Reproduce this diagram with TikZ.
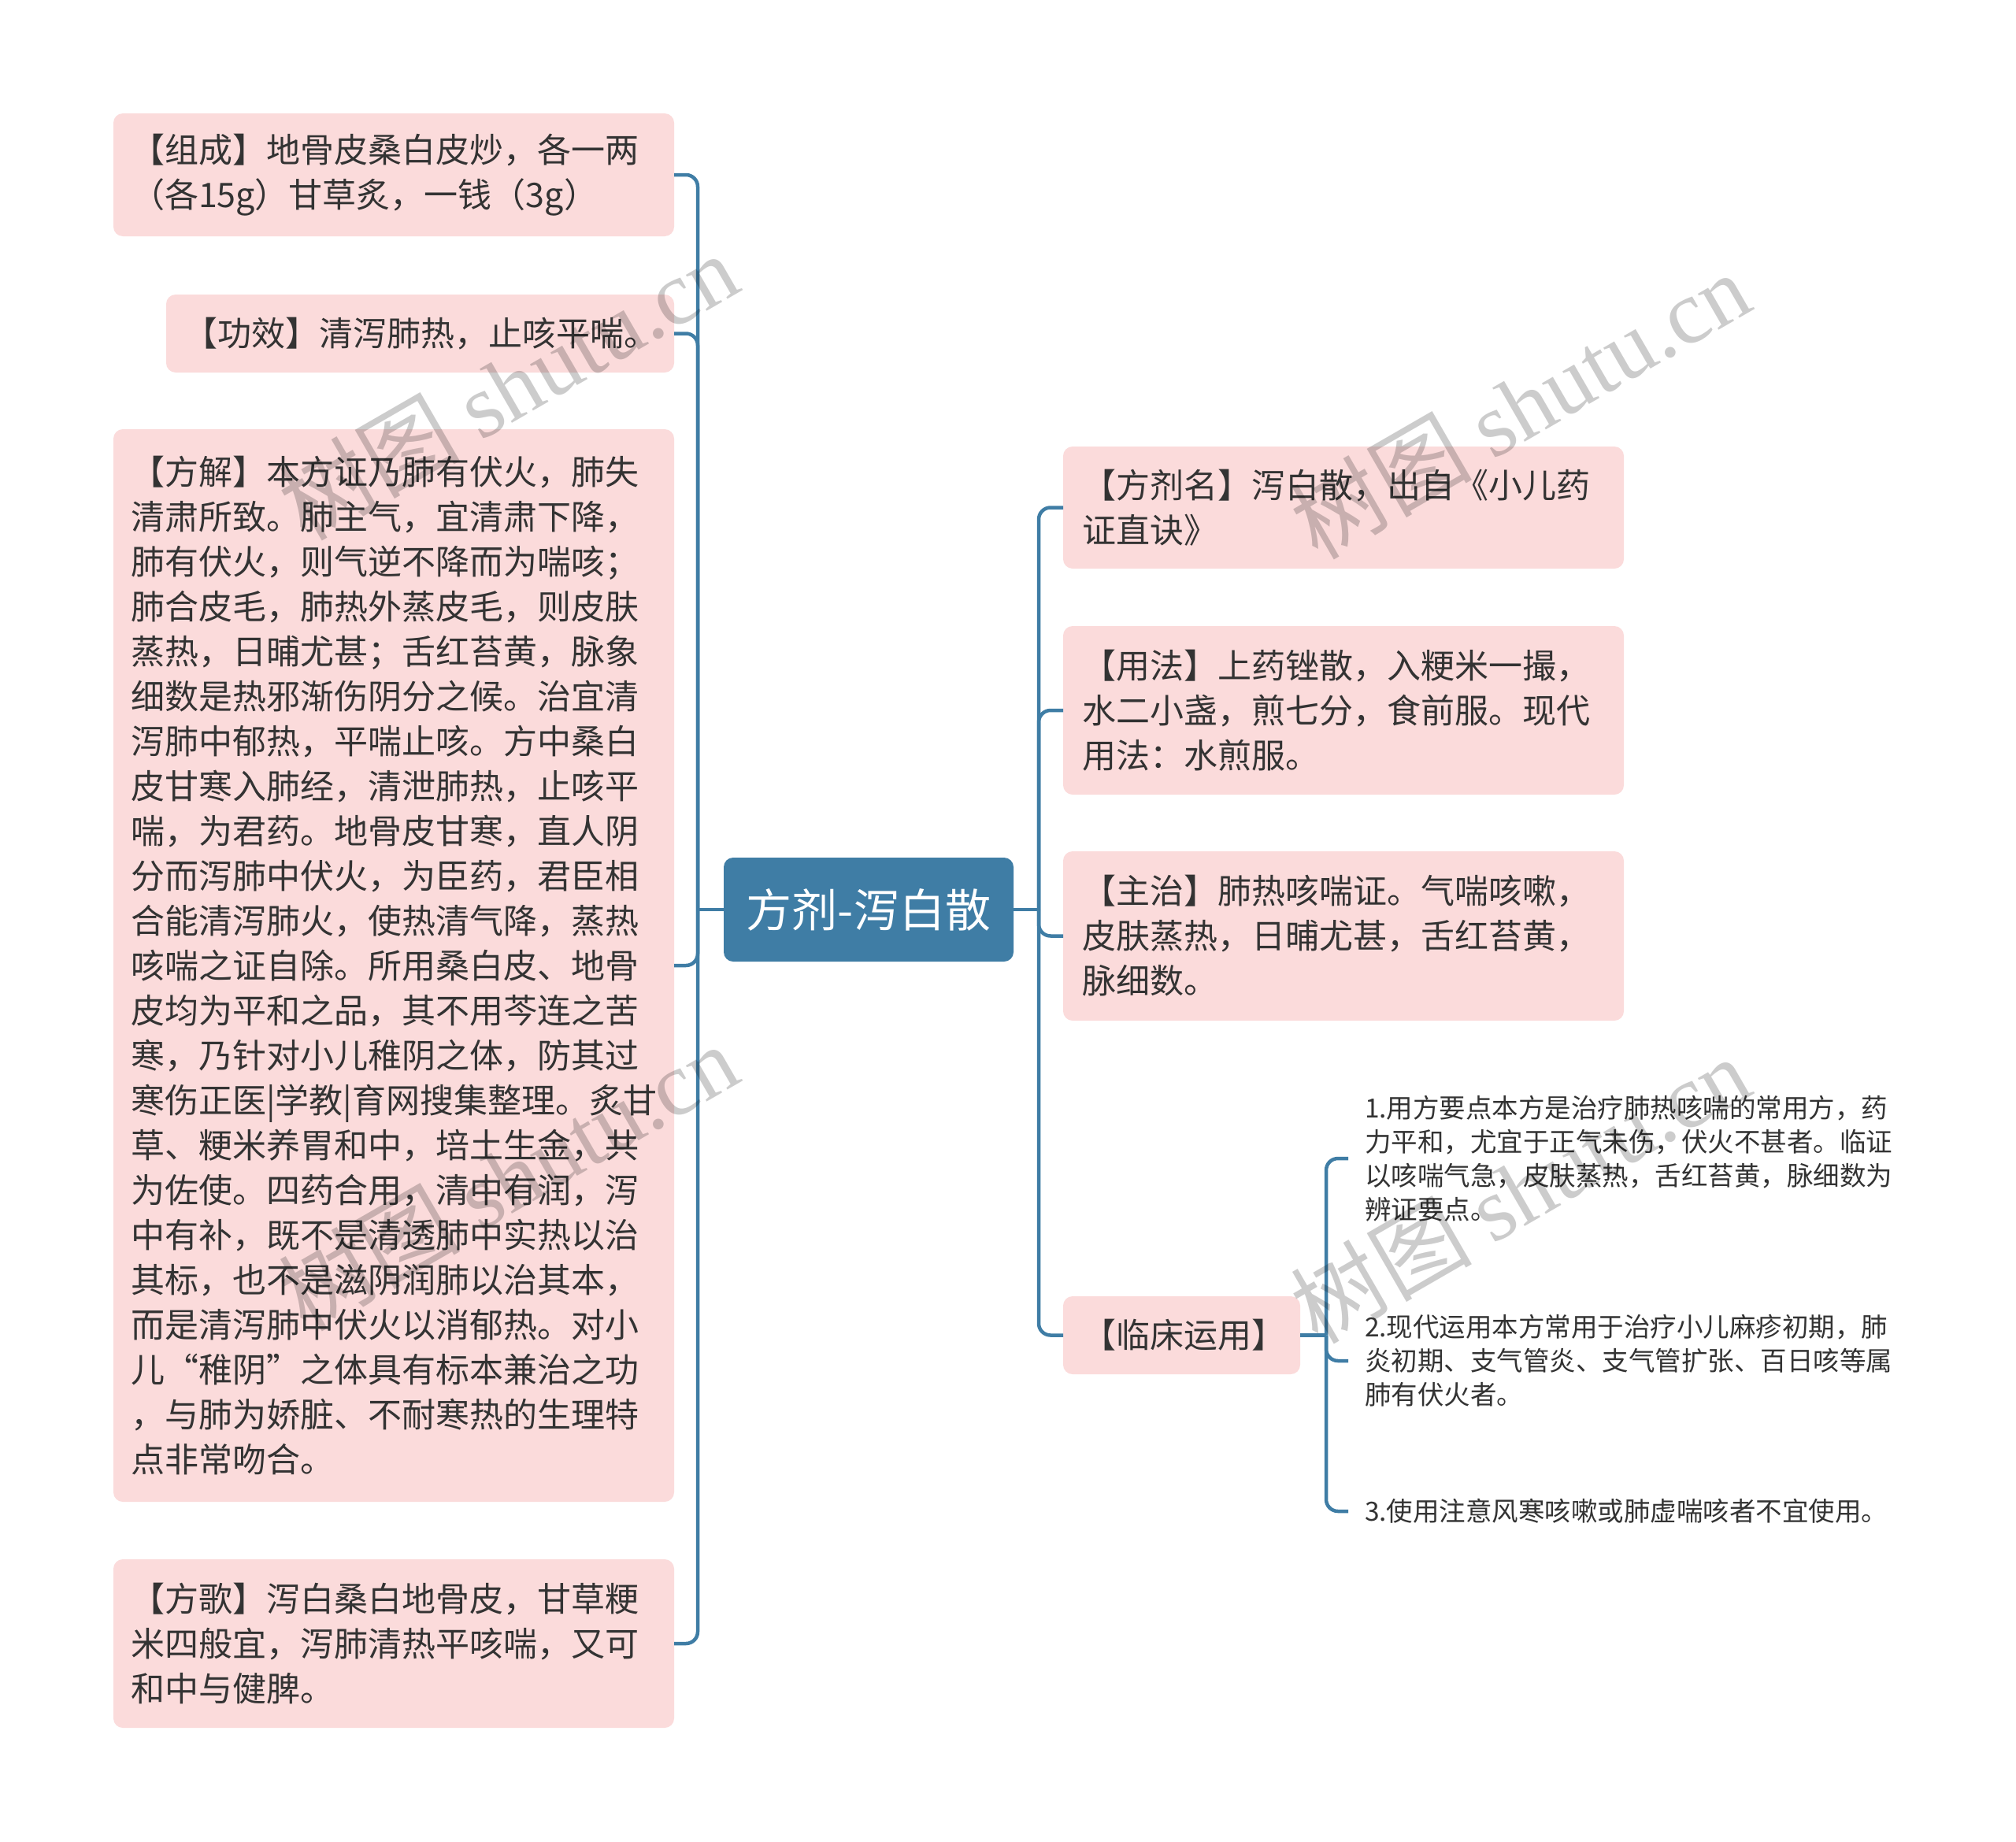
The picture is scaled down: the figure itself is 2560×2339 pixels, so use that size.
\documentclass[tikz,border=0pt]{standalone}
\usepackage{fontspec}
\setmainfont{Noto Sans CJK SC}
\newfontfamily\wmserif{Liberation Serif}
\definecolor{nodepink}{HTML}{FBDBDB}
\definecolor{mainblue}{HTML}{3F7DA5}
\definecolor{txtgray}{HTML}{333333}
\begin{document}
\begin{tikzpicture}[x=1pt,y=-1pt,
  every node/.style={outer sep=0pt},
  pbox/.style={rectangle, rounded corners=12pt, fill=nodepink, text=txtgray, anchor=north west,
    inner xsep=22pt, inner ysep=0pt, align=left, font=\fontsize{43}{57}\selectfont},
  rootbox/.style={rectangle, rounded corners=12pt, fill=mainblue, text=white, anchor=north west,
    inner sep=0pt, font=\fontsize{58}{70}\selectfont, minimum width=368pt, minimum height=132pt},
  leaf/.style={anchor=west, inner xsep=21pt, inner ysep=0pt, align=left, text=txtgray,
    font=\fontsize{33.5}{43}\selectfont},
  conn/.style={draw=mainblue, line width=4.5pt, rounded corners=15pt},
  wm/.style={rotate=30, text=black, text opacity=0.2, inner sep=0pt, font=\fontsize{115}{120}\selectfont}
]
\fill[white] (0,0) rectangle (2560,2339);
\useasboundingbox (0,0) rectangle (2560,2339);

% root
\node[rootbox] (root) at (919,1089) {方剂-泻白散};

% left children
\node[pbox, minimum height=156pt, text width=668pt] (zucheng) at (144,144)
  {【组成】地骨皮桑白皮炒，各一两\\（各15g）甘草炙，一钱（3g）};
\node[pbox, minimum height=99pt, text width=601pt] (gongxiao) at (211,374)
  {【功效】清泻肺热，止咳平喘。};
\node[pbox, minimum height=1362pt, text width=668pt] (fangjie) at (144,545)
  {【方解】本方证乃肺有伏火，肺失\\
清肃所致。肺主气，宜清肃下降，\\
肺有伏火，则气逆不降而为喘咳；\\
肺合皮毛，肺热外蒸皮毛，则皮肤\\
蒸热，日晡尤甚；舌红苔黄，脉象\\
细数是热邪渐伤阴分之候。治宜清\\
泻肺中郁热，平喘止咳。方中桑白\\
皮甘寒入肺经，清泄肺热，止咳平\\
喘，为君药。地骨皮甘寒，直人阴\\
分而泻肺中伏火，为臣药，君臣相\\
合能清泻肺火，使热清气降，蒸热\\
咳喘之证自除。所用桑白皮、地骨\\
皮均为平和之品，其不用芩连之苦\\
寒，乃针对小儿稚阴之体，防其过\\
寒伤正医|学教|育网搜集整理。炙甘\\
草、粳米养胃和中，培土生金，共\\
为佐使。四药合用，清中有润，泻\\
中有补，既不是清透肺中实热以治\\
其标，也不是滋阴润肺以治其本，\\
而是清泻肺中伏火以消郁热。对小\\
儿“稚阴”之体具有标本兼治之功\\
，与肺为娇脏、不耐寒热的生理特\\
点非常吻合。};
\node[pbox, minimum height=214pt, text width=668pt] (fangge) at (144,1980)
  {【方歌】泻白桑白地骨皮，甘草粳\\米四般宜，泻肺清热平咳喘，又可\\和中与健脾。};

% right children
\node[pbox, minimum height=155pt, text width=664pt, inner xsep=24pt] (fangjiming) at (1350,567)
  {【方剂名】泻白散，出自《小儿药\\证直诀》};
\node[pbox, minimum height=214pt, text width=664pt, inner xsep=24pt] (yongfa) at (1350,795)
  {【用法】上药锉散，入粳米一撮，\\水二小盏，煎七分，食前服。现代\\用法：水煎服。};
\node[pbox, minimum height=215pt, text width=664pt, inner xsep=24pt] (zhuzhi) at (1350,1081)
  {【主治】肺热咳喘证。气喘咳嗽，\\皮肤蒸热，日晡尤甚，舌红苔黄，\\脉细数。};
\node[pbox, minimum height=99pt, text width=253pt, inner xsep=24pt] (linchuang) at (1350,1646)
  {【临床运用】};

% leaves of 临床运用
\node[leaf] (item1) at (1712,1471)
  {1.用方要点本方是治疗肺热咳喘的常用方，药\\力平和，尤宜于正气未伤，伏火不甚者。临证\\以咳喘气急，皮肤蒸热，舌红苔黄，脉细数为\\辨证要点。};
\node[leaf] (item2) at (1712,1728)
  {2.现代运用本方常用于治疗小儿麻疹初期，肺\\炎初期、支气管炎、支气管扩张、百日咳等属\\肺有伏火者。};
\node[leaf] (item3) at (1712,1919)
  {3.使用注意风寒咳嗽或肺虚喘咳者不宜使用。};

% junctions
\coordinate (LJ) at ([xshift=-33pt]root.west);
\coordinate (RJ) at ([xshift=32pt]root.east);
\coordinate (CJ) at ([xshift=33pt]linchuang.east);

% connectors
\draw[conn] (root.west) -- (LJ);
\foreach \n in {zucheng,gongxiao,fangjie,fangge} \draw[conn] (LJ) |- (\n.east);
\draw[conn] (root.east) -- (RJ);
\foreach \n in {fangjiming,yongfa,zhuzhi,linchuang} \draw[conn] (RJ) |- (\n.west);
\draw[conn] (linchuang.east) -- (CJ);
\foreach \n in {item1,item2,item3} \draw[conn] (CJ) |- (\n.west);

% watermarks
\foreach \p [count=\i] in {(645,490),(1930,514),(645,1494),(1930,1510)}
  \node[wm] (wm\i) at \p {树图 {\wmserif shutu.cn}};
\end{tikzpicture}
\end{document}
